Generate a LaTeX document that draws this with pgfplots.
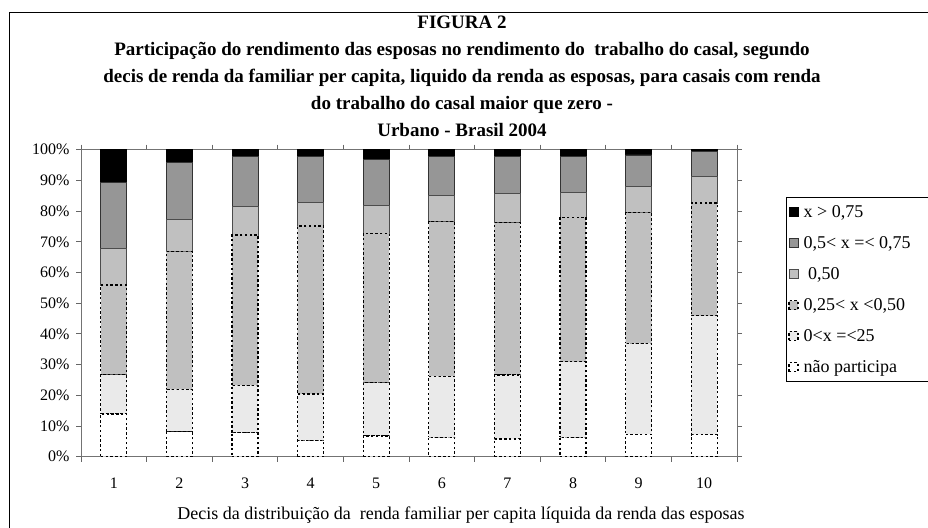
\documentclass[border=0pt]{standalone}
\usepackage{pgfplots}
\pgfplotsset{compat=1.18}
\usepackage{fontspec}
\setmainfont{Liberation Serif}
\definecolor{dgray}{HTML}{969696}
\definecolor{lgray}{HTML}{C0C0C0}
\definecolor{vlgray}{HTML}{EAEAEA}
\begin{document}
\begin{tikzpicture}
\useasboundingbox (0pt,0pt) rectangle (928pt,527pt);
\draw[black, line width=0.9pt] (9pt,-10pt) -- (9pt,515pt) -- (940pt,515pt);
\node[align=center, font=\bfseries\fontsize{19}{27}\selectfont] at (462pt,451pt)
 {FIGURA 2\\
  Participação do rendimento das esposas no rendimento do\ \ trabalho do casal, segundo\\
  decis de renda da familiar per capita, liquido da renda as esposas, para casais com renda\\
  do trabalho do casal maior que zero -\\
  Urbano - Brasil 2004};
\node[font=\fontsize{18}{21}\selectfont] at (461pt,12pt)
 {Decis da distribuição da\ \ renda familiar per capita líquida da renda das esposas};
\begin{axis}[
  at={(81pt,70.3pt)}, anchor=south west,
  width=656pt, height=307pt, scale only axis,
  ybar stacked, bar width=26pt,
  xmin=0.5, xmax=10.5, ymin=0, ymax=100,
  xtick={1,...,10},
  minor xtick={0.5,1.5,...,10.5},
  ytick={0,10,...,100},
  yticklabel={\pgfmathprintnumber{\tick}\%},
  /pgf/number format/assume math mode=true,
  major x tick style={draw=none},
  minor x tick style={draw=black!60, line width=0.8pt},
  y tick style={draw=black!60, line width=0.8pt},
  major tick length=5pt, minor tick length=5pt,
  tick align=outside,
  axis line style={draw=black!55, line width=0.8pt},
  ticklabel style={font=\fontsize{16}{19}\selectfont},
  xticklabel style={yshift=-13pt},
  yticklabel style={xshift=-3pt},
  reverse legend,
  legend cell align=left,
  legend style={at={(axis description cs:1.0747,0.846)}, anchor=north west,
    draw=black, line width=0.8pt, fill=white,
    font=\fontsize{18}{21}\selectfont, row sep=13.5pt, inner ysep=6pt, inner xsep=2pt},
  legend image code/.code={\draw[#1] (0pt,-4.5pt) rectangle (9pt,4.5pt);},
]
\addplot[fill=white, draw=black, dash pattern=on 2.4pt off 2.4pt, line width=1.3pt] coordinates
 {(1,13.9) (2,8.1) (3,7.8) (4,5.2) (5,6.7) (6,6.3) (7,5.8) (8,6.3) (9,7.3) (10,7.2)};
\addplot[fill=vlgray, draw=black, dash pattern=on 2.4pt off 2.4pt, line width=1.3pt] coordinates
 {(1,12.8) (2,13.8) (3,15.4) (4,15.2) (5,17.4) (6,19.9) (7,20.8) (8,24.6) (9,29.6) (10,38.7)};
\addplot[fill=lgray, draw=black, dash pattern=on 2.4pt off 2.4pt, line width=1.3pt] coordinates
 {(1,29.2) (2,44.9) (3,49.0) (4,54.7) (5,48.7) (6,50.3) (7,49.6) (8,47.1) (9,42.6) (10,36.7)};
\addplot[fill=lgray, draw=black!70, line width=0.8pt] coordinates
 {(1,12.0) (2,10.5) (3,9.2) (4,7.8) (5,9.1) (6,8.7) (7,9.5) (8,8.1) (9,8.4) (10,8.7)};
\addplot[fill=dgray, draw=black!80, line width=0.8pt] coordinates
 {(1,21.4) (2,18.6) (3,16.3) (4,14.8) (5,14.8) (6,12.5) (7,12.0) (8,11.6) (9,10.4) (10,8.0)};
\addplot[fill=black, draw=black, line width=0.8pt] coordinates
 {(1,10.7) (2,4.1) (3,2.3) (4,2.3) (5,3.3) (6,2.3) (7,2.3) (8,2.3) (9,1.7) (10,0.7)};
\legend{\makebox[130pt][l]{\hspace{3pt}não participa},\makebox[130pt][l]{\hspace{3pt}0{<}x =<25},\makebox[130pt][l]{\hspace{3pt}0,25< x <0,50},\makebox[130pt][l]{\hspace{3pt}\ 0,50},\makebox[130pt][l]{\hspace{3pt}0,5< x =< 0,75},\makebox[130pt][l]{\hspace{3pt}x > 0,75}}
\end{axis}
\end{tikzpicture}
\end{document}
